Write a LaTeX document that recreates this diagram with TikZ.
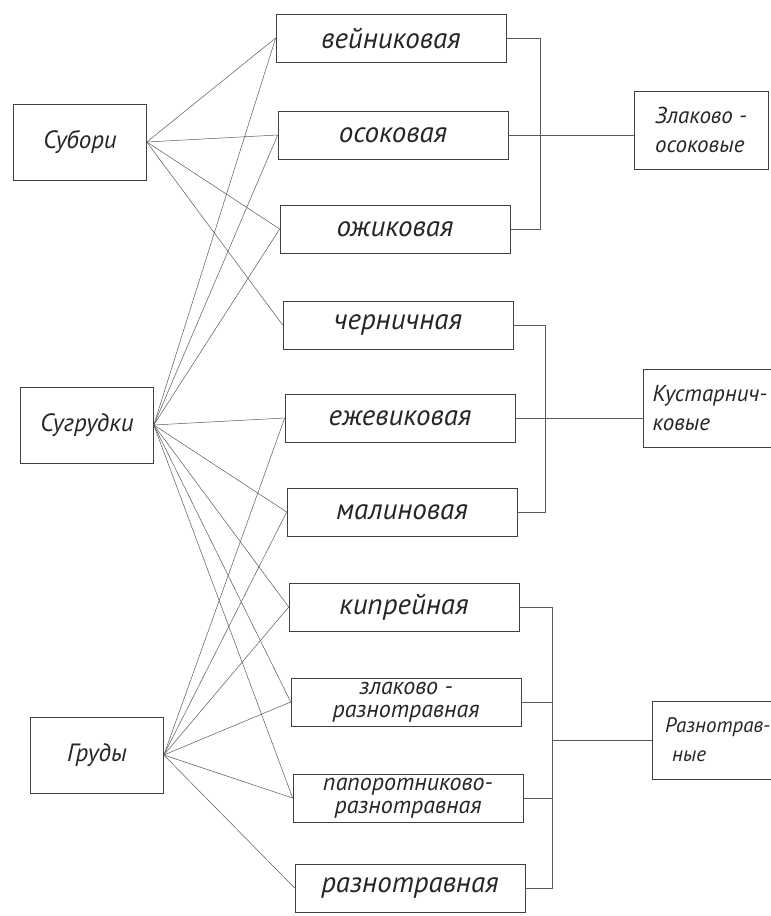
\documentclass[tikz,border=0pt]{standalone}
\usepackage{fontspec}
\setmainfont{PT Sans}
\tikzset{box/.style={draw=black!75, line width=0.6pt, rectangle, minimum width=230pt, minimum height=48pt, inner sep=2pt, text=black!85, font=\itshape\fontsize{29}{31}\selectfont},
  twoline/.style={box, align=center, font=\itshape\fontsize{24}{23}\selectfont},
  src/.style={box, minimum width=133pt, minimum height=76pt, font=\itshape\fontsize{25}{27}\selectfont},
  grp/.style={box, minimum width=134pt, minimum height=78pt, align=left, font=\itshape\fontsize{23}{29}\selectfont},
  link/.style={draw=black!65, line width=0.5pt}}

\begin{document}
\begin{tikzpicture}[x=1pt, y=-1pt]
    \useasboundingbox (0,0) rectangle (771,916);
    % left column
    \node[src] (subori) at (80,142) {Субори};
    \node[src] (sugrud) at (87,425) {Сугрудки};
    \node[src] (grudy) at (97,755) {Груды};
    % middle column
    \node[box] (veyn) at (391,38) {вейниковая};
    \node[box] (osok) at (393,135) {осоковая};
    \node[box] (ozhik) at (395,229) {ожиковая};
    \node[box] (chern) at (398,325) {черничная};
    \node[box] (ezhev) at (400,418) {ежевиковая};
    \node[box] (malin) at (402,512) {малиновая};
    \node[box] (kipr) at (404,607) {кипрейная};
    \node[twoline] (zlak) at (406,702) {злаково -\\разнотравная};
    \node[twoline] (papor) at (408,798) {папоротниково-\\разнотравная};
    \node[box] (razn) at (410,888) {разнотравная};
    % right column
    \node[grp] (zlakosok) at (701,130) {Злаково -\\осоковые};
    \node[grp] (kust) at (710,408) {Кустарнич-\\ковые};
    \node[grp, font=\itshape\fontsize{21}{29}\selectfont, text width=108pt] (raznotr) at (719,740) {Разнотрав-\\\ ные};
    % links from the left column
    \foreach \t in {veyn,osok,ozhik,chern}
        \draw[link] (subori.east) -- (\t.west);
    \foreach \t in {veyn,osok,ozhik,ezhev,malin,kipr,zlak,papor}
        \draw[link] (sugrud.east) -- (\t.west);
    \foreach \t in {ezhev,malin,kipr,zlak,papor,razn}
        \draw[link] (grudy.east) -- (\t.west);
    % brackets
    \coordinate (bus1) at (540,0);
    \coordinate (bus2) at (545,0);
    \coordinate (bus3) at (552,0);
    \draw[link] (veyn.east) -- (veyn.east -| bus1) |- (ozhik.east);
    \draw[link] (osok.east) -- (osok.east -| zlakosok.west);
    \draw[link] (chern.east) -- (chern.east -| bus2) |- (malin.east);
    \draw[link] (ezhev.east) -- (ezhev.east -| kust.west);
    \draw[link] (kipr.east) -- (kipr.east -| bus3) |- (razn.east);
    \draw[link] (zlak.east) -- (zlak.east -| bus3);
    \draw[link] (papor.east) -- (papor.east -| bus3);
    \draw[link] (raznotr.west -| bus3) -- (raznotr.west);
\end{tikzpicture}
\end{document}
